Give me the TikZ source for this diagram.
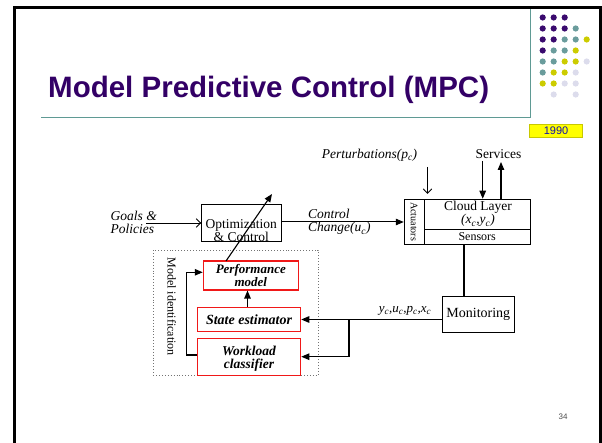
\documentclass[tikz,border=0pt]{standalone}
\usepackage{fontspec}
\setmainfont{Liberation Serif}
\newfontfamily\arialfont{Liberation Sans}
\usetikzlibrary{arrows.meta,calc}

\definecolor{titlepurple}{HTML}{330066}
\definecolor{dotpurple}{HTML}{3A0A6E}
\definecolor{dotteal}{HTML}{6A9C9C}
\definecolor{dotyellow}{HTML}{CCCC00}
\definecolor{dotlav}{HTML}{DCDCEC}
\definecolor{rulecol}{HTML}{5F9A94}
\definecolor{yearfill}{HTML}{FFFF00}
\definecolor{yearedge}{HTML}{C8C800}
\definecolor{yeartext}{HTML}{1010B0}
\definecolor{boxred}{HTML}{F01818}

\newcommand\fs[1]{\fontsize{#1}{#1}\selectfont}
\def\nonecol{none}

\begin{document}
\begin{tikzpicture}[x=1pt,y=-1pt,
  box/.style={draw=black, line width=0.8pt, inner sep=0pt},
  redbox/.style={draw=boxred, line width=1.1pt, inner sep=0pt, fill=white},
  wire/.style={line width=1.1pt, draw=black},
  arr/.style={wire, -{Triangle[length=8pt,width=6.5pt]}},
  openarr/.style={line width=0.9pt, draw=black, -{Straight Barb[length=4.5pt,width=8.5pt,line width=0.9pt]}},
  txt/.style={inner sep=0pt, align=center, font=\fs{13.5}},
  itxt/.style={inner sep=0pt, align=left, font=\fs{13.5}\itshape, execute at begin node=\setlength{\baselineskip}{13.5pt}},
  btxt/.style={inner sep=0pt, align=center, font=\fs{13}\bfseries\itshape, execute at begin node=\setlength{\baselineskip}{12.8pt}},
  dot/.style={circle, inner sep=0pt, minimum size=6.2pt}
]
\useasboundingbox (0,0) rectangle (602,443);

% slide frame
\draw[line width=3.4pt] (14.4,443) -- (14.4,7.5) -- (600.5,7.5) -- (600.5,443);

% title and its rules
\node[anchor=base west, inner sep=0pt, text=titlepurple, font=\arialfont\bfseries\fs{29.5}] (title) at (48,98) {Model Predictive Control (MPC)};
\draw[rulecol, line width=1pt] (41,118) -- (530,118) -- (530,9);

% dot pattern
\foreach \row/\list in {
  1/{dotpurple,dotpurple,dotpurple},
  2/{dotpurple,dotpurple,dotpurple,dotteal},
  3/{dotpurple,dotpurple,dotteal,dotteal,dotyellow},
  4/{dotpurple,dotteal,dotteal,dotyellow},
  5/{dotteal,dotteal,dotyellow,dotyellow,dotlav},
  6/{dotteal,dotyellow,dotyellow,dotlav},
  7/{dotyellow,dotyellow,dotlav,dotlav},
  8/{none,dotlav,none,dotlav}} {
  \foreach \c [count=\col] in \list {
    \ifx\c\nonecol\else
      \node[dot, fill=\c] (d\row-\col) at ({542.7+11*(\col-1)},{17.5+11*(\row-1)}) {};
    \fi
  }
}

% year tag
\node[draw=yearedge, fill=yearfill, line width=0.8pt, minimum width=53pt, minimum height=13.4pt, inner sep=0pt,
      text=yeartext, font=\arialfont\fs{11}] (year) at (556,131) {1990};

% page number
\node[inner sep=0pt, text=black!70, font=\arialfont\fs{8}] (pg) at (563,417) {34};

% optimization block
\node[box, minimum width=80pt, minimum height=37.4pt] (opt) at (241.7,223) {};
\node[txt, execute at begin node=\setlength{\baselineskip}{12.5pt}] (optt) at (241.2,230.5) {Optimization\\\& Control};

% goals input
\node[itxt, anchor=west] (goals) at (110.5,222.5) {Goals \&\\Policies};
\coordinate (gin) at (146,223);
\draw[openarr] (gin) -- (opt.west);

% control change
\node[itxt, anchor=west] (ctrl) at (308,222) {Control\\Change(u\textsubscript{c})};

% cloud layer
\node[box, minimum width=20pt, minimum height=45pt] (act) at (414.2,221.7) {};
\node[inner sep=0pt, rotate=-90, font=\fs{10}] (actt) at (act.center) {Actuators};
\node[box, minimum width=106pt, minimum height=30.3pt] (layer) at (477.2,214.3) {};
\node[txt, execute at begin node=\setlength{\baselineskip}{13.5pt}] (layert) at (478,214) {Cloud Layer\\{\itshape (x\textsubscript{c},y\textsubscript{c})}};
\node[box, minimum width=106pt, minimum height=14.7pt] (sens) at (477.2,236.8) {};
\node[inner sep=0pt, font=\fs{12}] (senst) at (sens.center) {Sensors};

\draw[arr, line width=1pt] (opt.east |- 0,222) -- (act.west |- 0,222);

% perturbations and services
\node[inner sep=0pt, font=\fs{13.5}\itshape] (pert) at (369.5,155) {Perturbations(p\textsubscript{c})};
\coordinate (ptop) at (427.5,167);
\coordinate (pbot) at (427.5,194);
\draw[openarr] (ptop) -- (pbot);

\node[inner sep=0pt, font=\fs{13.5}] (serv) at (498.5,154) {Services};
\coordinate (svdn) at (482.7,161);
\coordinate (svup) at (501,162);
\draw[arr] (svdn) -- (svdn |- layer.north);
\draw[arr] (svup |- layer.north) -- (svup);

% monitoring
\node[box, minimum width=72pt, minimum height=36.7pt] (mon) at (478.3,314.3) {};
\node[inner sep=0pt, font=\fs{14}] (mont) at (mon.center) {Monitoring};
\draw[wire] ([xshift=-14.3pt]mon.north) -- ([xshift=-14.3pt]mon.north |- sens.south);

% model identification group
\node[draw=black!55, dotted, line width=0.9pt, minimum width=165pt, minimum height=125pt, inner sep=0pt] (mid) at (235.8,312.5) {};
\node[inner sep=0pt, rotate=-90, font=\fs{12}] (midt) at (171.7,306.5) {Model identification};

\node[redbox, minimum width=95pt, minimum height=29pt] (perf) at (250.8,275.5) {};
\node[btxt] (perft) at (250.8,275.5) {Performance\\model};
\node[redbox, minimum width=103.4pt, minimum height=24pt] (state) at (249,319.5) {};
\node[btxt, font=\fs{14}\bfseries\itshape] (statet) at (249,319.5) {State estimator};
\node[redbox, minimum width=103.4pt, minimum height=36.7pt] (work) at (249,356.7) {};
\node[btxt, font=\fs{13.5}\bfseries\itshape, execute at begin node=\setlength{\baselineskip}{13.5pt}] (workt) at (249,359) {Workload\\classifier};

% measurements to estimators
\coordinate (br) at (349,319.5);
\draw[arr] (state.east -| mon.west) -- (state.east);
\draw[arr] (br) |- (work.east);
\node[anchor=base, inner sep=0pt, font=\fs{13}\itshape] (meas) at (405,313) {y\textsubscript{c},u\textsubscript{c},p\textsubscript{c},x\textsubscript{c}};

% internal model flows
\draw[arr] ([xshift=-1.5pt]state.north) -- ([xshift=-1.5pt]state.north |- perf.south);
\draw[arr] ([yshift=1.7pt]work.west) -- ++(-10.5,0) |- ([yshift=3.2pt]perf.west);

% optimizer adjusts the model
\coordinate (dstart) at (226,261);
\coordinate (dend) at (272,194);
\draw[arr] (dstart) -- (dend);
\end{tikzpicture}
\end{document}
